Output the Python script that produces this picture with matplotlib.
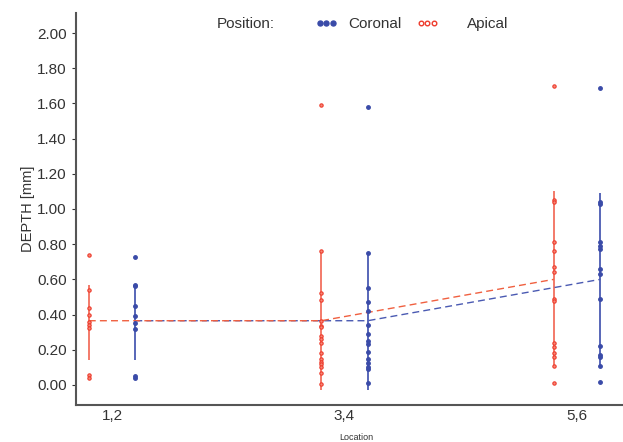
import numpy as np
import matplotlib.pyplot as plt
from matplotlib.lines import Line2D

plt.rcParams['font.family'] = ['Liberation Sans', 'DejaVu Sans']

locations = ["1,2", "3,4", "5,6"]

apical = [
    [0.74, 0.54, 0.44, 0.40, 0.355, 0.34, 0.325, 0.057, 0.04],
    [1.59, 0.76, 0.52, 0.48, 0.365, 0.335, 0.33, 0.28, 0.26, 0.24, 0.18,
     0.15, 0.13, 0.12, 0.10, 0.07, 0.005],
    [1.70, 1.05, 1.04, 0.81, 0.76, 0.67, 0.64, 0.49, 0.475, 0.24, 0.215,
     0.18, 0.16, 0.11, 0.01],
]
coronal = [
    [0.73, 0.57, 0.56, 0.45, 0.39, 0.35, 0.32, 0.05, 0.04],
    [1.58, 0.75, 0.55, 0.47, 0.42, 0.34, 0.29, 0.25, 0.23, 0.19, 0.15,
     0.125, 0.10, 0.09, 0.01],
    [1.685, 1.04, 1.03, 0.81, 0.79, 0.77, 0.66, 0.63, 0.49, 0.22, 0.17,
     0.16, 0.105, 0.015],
]

# group means and error bar ends
apical_mean = [0.365, 0.365, 0.60]
apical_lo = [0.14, -0.03, 0.10]
apical_hi = [0.57, 0.76, 1.10]
coronal_mean = [0.365, 0.365, 0.60]
coronal_lo = [0.14, -0.03, 0.10]
coronal_hi = [0.57, 0.755, 1.09]

red = "#EE3B2C"
red_line = "#F2705E"
blue = "#3A4BA8"
blue_line = "#4A5AB2"
dodge = 0.1

fig = plt.figure(figsize=(6.23, 4.42), dpi=100)
ax = fig.add_axes([76 / 623, 37 / 442, 547 / 623, 392 / 442])

xc = np.arange(1, len(locations) + 1)
xr = xc - dodge
xb = xc + dodge

for i in range(len(locations)):
    ax.vlines(xr[i], apical_lo[i], apical_hi[i], color=red_line, lw=1.3, zorder=2)
    ax.vlines(xb[i], coronal_lo[i], coronal_hi[i], color=blue_line, lw=1.3, zorder=2)
    ax.plot([xr[i]] * len(apical[i]), apical[i], 'o', ms=2.4, mfc="#F58878",
            mec=red, mew=0.8, zorder=3)
    ax.plot([xb[i]] * len(coronal[i]), coronal[i], 'o', ms=2.5, color=blue, zorder=3)

ax.plot(xb, coronal_mean, '--', color=blue_line, lw=1.0, dashes=(5, 3), zorder=2)
ax.plot(xr, apical_mean, '--', color="#F06040", lw=1.0, dashes=(5, 3), zorder=2)

ax.set_xlim(0.845, 3.198)
ax.set_ylim(-0.114, 2.114)
ax.set_xticks(xc)
ax.set_xticklabels(locations)
ax.set_yticks(np.arange(0, 2.01, 0.2))
ax.set_yticklabels([f"{v:.2f}" for v in np.arange(0, 2.01, 0.2)])
ax.tick_params(axis='both', labelsize=11, colors="#333333", length=3, width=0.8)
ax.tick_params(axis='x', length=0, pad=3)
for s in ["top", "right"]:
    ax.spines[s].set_visible(False)
for s in ["left", "bottom"]:
    ax.spines[s].set_color("#555555")
    ax.spines[s].set_linewidth(1.5)

ax.set_ylabel("DEPTH [mm]", fontsize=10.5, color="#333333", labelpad=2)
fig.text(356 / 623, 1 - 437 / 442, "Location", fontsize=6.5, color="#333333",
         ha="center", va="center")

fig.text(217 / 623, 1 - 24 / 442, "Position:", fontsize=11, color="#333333",
         va="center", ha="left")
h_cor = Line2D([], [], ls="none", marker="o", ms=3.6, color=blue)
h_api = Line2D([], [], ls="none", marker="o", ms=3.3, mfc="white", mec=red, mew=1.0)
leg1 = fig.legend([h_cor], ["Coronal"], loc="center left",
                  bbox_to_anchor=(302 / 623, 1 - 24 / 442), frameon=False,
                  numpoints=3, fontsize=11, handlelength=1.4, handletextpad=0.75)
leg2 = fig.legend([h_api], ["Apical"], loc="center left",
                  bbox_to_anchor=(403 / 623, 1 - 24 / 442), frameon=False,
                  numpoints=3, fontsize=11, handlelength=1.4, handletextpad=1.9)
for leg in (leg1, leg2):
    for t in leg.get_texts():
        t.set_color("#333333")

fig.savefig("out.png", dpi=100)
